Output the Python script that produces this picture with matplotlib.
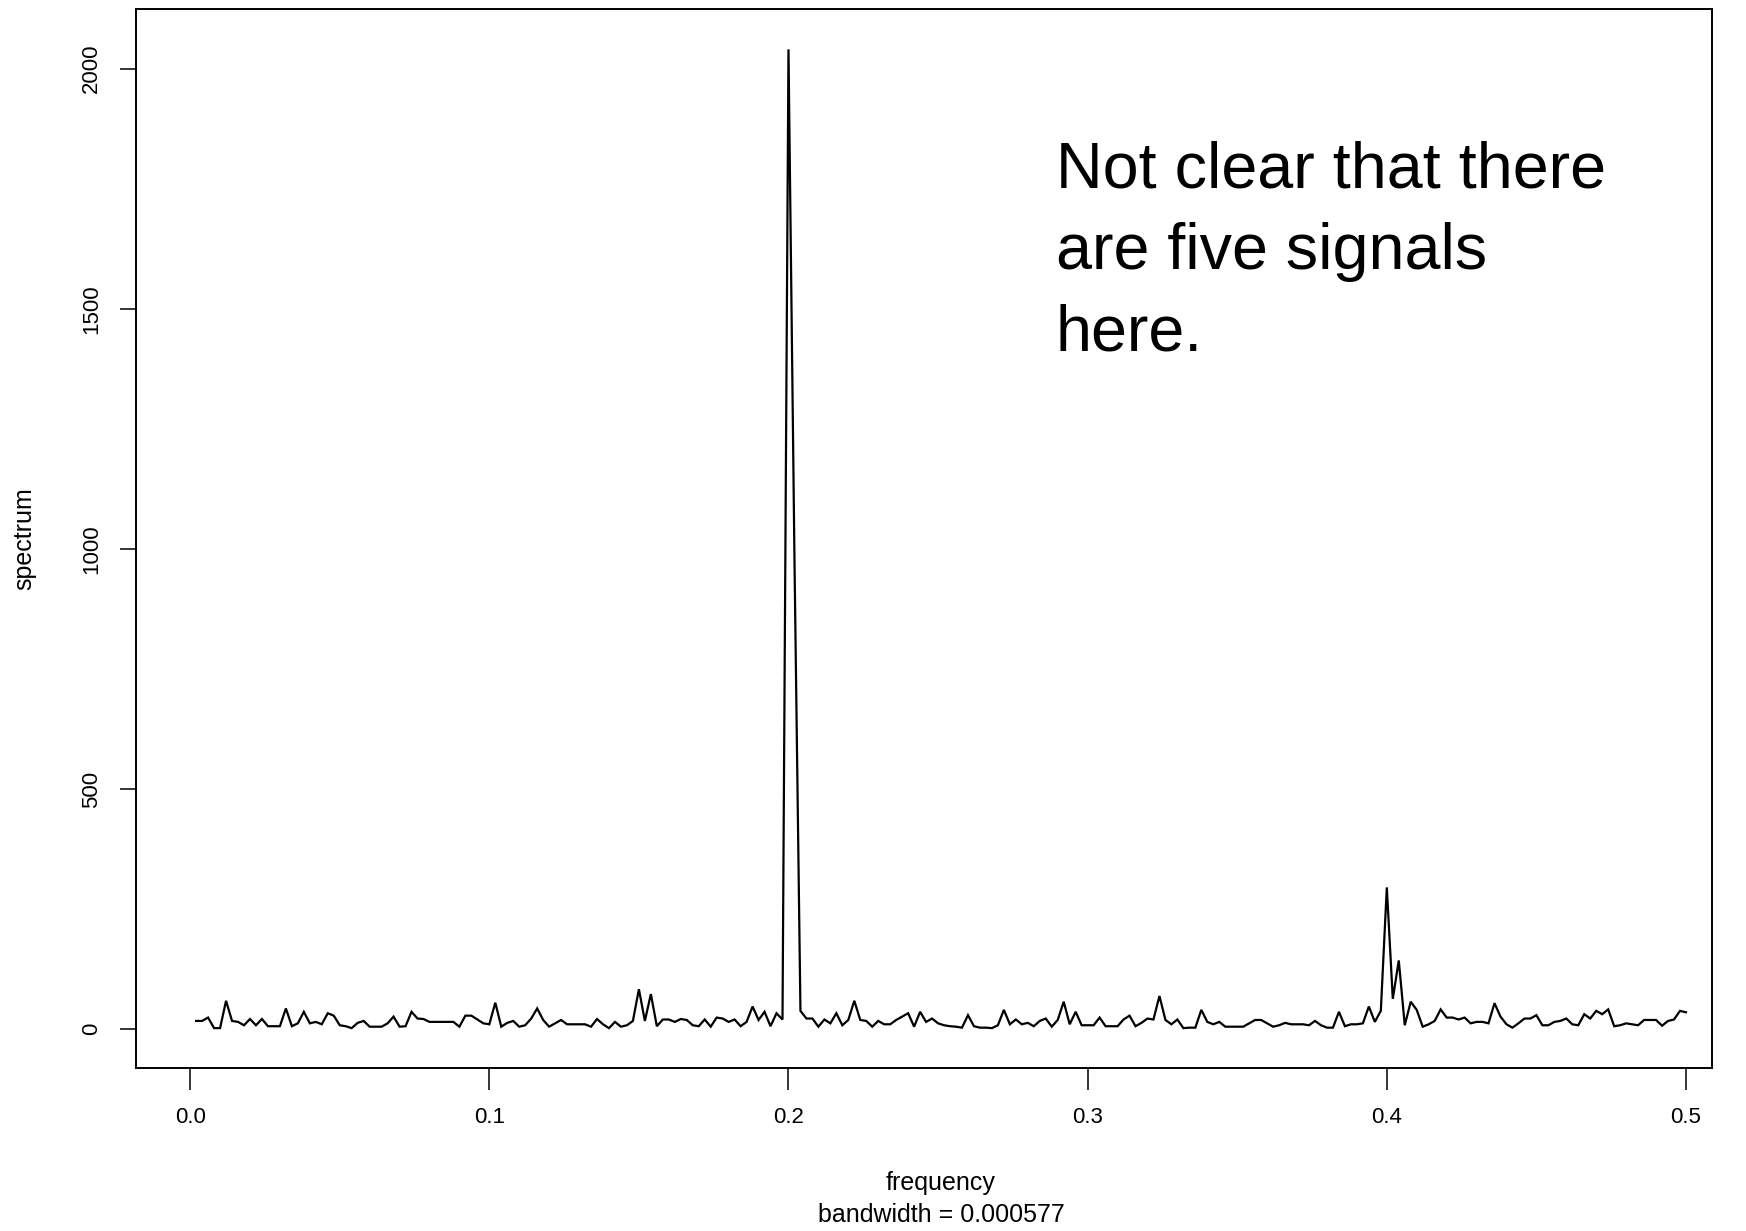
import numpy as np
import matplotlib
matplotlib.use("Agg")
import matplotlib.pyplot as plt

plt.rcParams['font.family'] = ['Liberation Sans', 'DejaVu Sans']

# Raw periodogram of a length-500 series, Fourier frequencies k/500, k = 1..250
n_obs = 500
spectrum = [
    17, 17, 24, 2, 2, 59, 17, 15, 8, 21,
    8, 21, 6, 6, 6, 43, 6, 12, 36, 12,
    15, 10, 33, 28, 8, 6, 2, 13, 17, 5,
    5, 5, 12, 26, 5, 6, 36, 22, 21, 15,
    15, 15, 15, 15, 5, 28, 28, 20, 12, 10,
    55, 5, 13, 17, 5, 8, 22, 43, 19, 5,
    12, 19, 10, 10, 10, 10, 5, 21, 10, 2,
    15, 5, 8, 17, 83, 17, 73, 6, 20, 20,
    15, 21, 19, 8, 6, 20, 5, 24, 22, 15,
    20, 6, 15, 47, 19, 36, 6, 33, 20, 2040,
    979, 38, 22, 22, 5, 20, 12, 33, 8, 19,
    59, 19, 17, 5, 17, 10, 10, 19, 26, 33,
    5, 36, 15, 22, 12, 8, 6, 5, 3, 29,
    6, 3, 3, 2, 8, 40, 10, 20, 10, 13,
    6, 17, 22, 5, 19, 57, 10, 36, 8, 8,
    8, 24, 6, 6, 6, 20, 28, 6, 13, 22,
    20, 69, 19, 10, 20, 2, 3, 3, 40, 15,
    10, 15, 5, 5, 5, 5, 12, 19, 19, 12,
    5, 8, 13, 10, 10, 10, 8, 17, 8, 3,
    3, 36, 6, 10, 10, 12, 47, 15, 38, 295,
    63, 143, 8, 57, 40, 5, 10, 17, 41, 24,
    24, 20, 24, 12, 15, 15, 12, 54, 26, 10,
    3, 12, 22, 22, 29, 8, 8, 15, 17, 22,
    10, 8, 31, 22, 38, 31, 41, 6, 8, 12,
    10, 8, 19, 19, 19, 7, 17, 20, 38, 35,
]
frequency = np.arange(1, len(spectrum) + 1) / n_obs

x_ticks = [0.0, 0.1, 0.2, 0.3, 0.4, 0.5]
x_tick_labels = ["0.0", "0.1", "0.2", "0.3", "0.4", "0.5"]
y_ticks = [0, 500, 1000, 1500, 2000]
y_tick_labels = ["0", "500", "1000", "1500", "2000"]

W, H = 1746, 1231
fig = plt.figure(figsize=(W / 100, H / 100), dpi=100)
left, right, top, bottom = 136, 1712, 9, 1068
ax = fig.add_axes([left / W, 1 - bottom / H, (right - left) / W, (bottom - top) / H])

ax.plot(frequency, spectrum, color="black", lw=1.6, solid_joinstyle="miter")

xmin, xmax = -0.0181, 0.5087
ax.set_xlim(xmin, xmax)
ax.set_ylim(-81, 2124)

ax.set_xticks(x_ticks)
ax.set_xticklabels(x_tick_labels, fontsize=16)
ax.set_yticks(y_ticks)
ax.set_yticklabels(y_tick_labels, fontsize=16, rotation=90, va="center")

for s in ax.spines.values():
    s.set_linewidth(1.4)
    s.set_color("black")
ax.tick_params(axis="x", length=16, width=1.1, pad=12, colors="black")
ax.tick_params(axis="y", length=11.5, width=1.1, pad=13, colors="black")

# axis titles, centred on the nominal plotting range
xc = (0.251 - xmin) / (xmax - xmin)
ax.set_xlabel("frequency", fontsize=18)
ax.xaxis.set_label_coords(xc, (bottom - 1183) / (bottom - top))
ax.xaxis.label.set_va("center")
ax.text(xc, (bottom - 1215) / (bottom - top), "bandwidth = 0.000577",
        transform=ax.transAxes, ha="center", va="center", fontsize=18)
ax.set_ylabel("spectrum", fontsize=18)
ax.yaxis.set_label_coords((24.5 - left) / (right - left), 0.5)
ax.yaxis.label.set_va("center")

fig.text(1056 / W, 1 - 141 / H, "Not clear that there\nare five signals\nhere.",
         fontsize=46.5, ha="left", va="top", linespacing=1.45, color="black")

fig.savefig("out.png", dpi=100, facecolor="white")
